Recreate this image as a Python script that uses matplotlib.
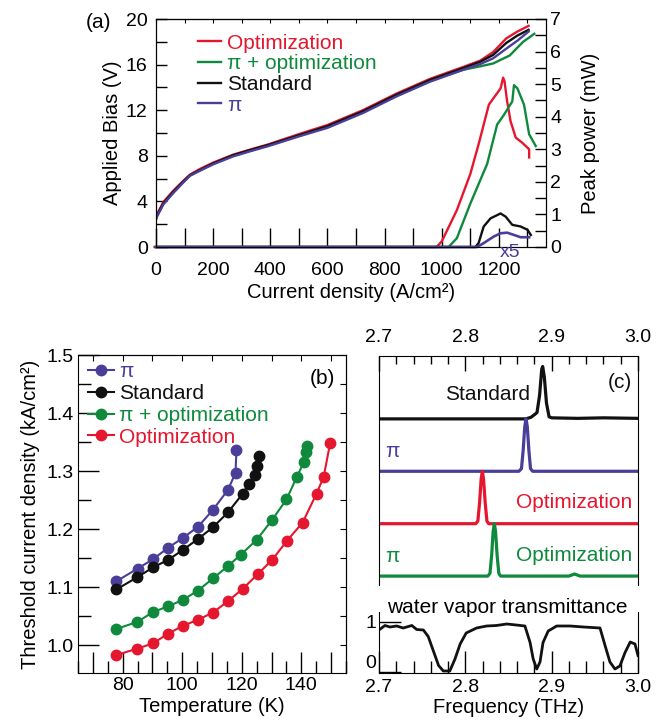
import numpy as np
import matplotlib
matplotlib.use("Agg")
import matplotlib.pyplot as plt
from matplotlib.ticker import MultipleLocator, FuncFormatter

plt.rcParams['font.family'] = ['Liberation Sans', 'DejaVu Sans']
plt.rcParams['font.size'] = 14

RED = '#e5172f'
GREEN = '#0f8a3c'
BLUE = '#4a3f98'
BLACK = '#111111'

# ---- (a) V-J and L-J curves ----
j_v = [-8, 2, 26, 61, 95, 119, 154, 200, 270, 330, 393, 500, 600, 724, 841, 959, 1076, 1135, 1180, 1226, 1265, 1304]
v_std = [1.8, 2.7, 3.85, 4.85, 5.72, 6.3, 6.75, 7.33, 8.05, 8.5, 8.95, 9.8, 10.6, 11.9, 13.35, 14.65, 15.7, 16.25, 16.85, 17.9, 18.55, 19.05]
v_opt = [1.75, 2.8, 3.95, 4.95, 5.8, 6.35, 6.85, 7.4, 8.1, 8.55, 9.0, 9.9, 10.7, 12.0, 13.45, 14.75, 15.8, 16.35, 17.1, 18.3, 18.9, 19.4]
v_pi = [1.8, 2.6, 3.75, 4.75, 5.65, 6.25, 6.7, 7.25, 7.95, 8.4, 8.85, 9.7, 10.45, 11.75, 13.2, 14.5, 15.55, 16.05, 16.55, 17.4, 18.1, 18.9]
j_v_piopt = [-5, 2, 26, 61, 95, 119, 154, 200, 270, 330, 393, 500, 600, 724, 841, 959, 1076, 1135, 1180, 1238, 1285, 1324]
v_piopt = [1.8, 2.65, 3.8, 4.8, 5.68, 6.28, 6.72, 7.3, 8.0, 8.45, 8.9, 9.75, 10.55, 11.85, 13.3, 14.6, 15.55, 15.85, 16.1, 16.8, 18.0, 18.7]

j_l_opt = [-5, 982, 1000, 1053, 1100, 1129, 1165, 1206, 1215, 1220, 1229, 1241, 1259, 1282, 1306, 1306]
l_opt = [0, 0, 0.17, 1.13, 2.24, 3.15, 4.37, 4.87, 5.2, 5.08, 4.47, 3.86, 3.36, 3.2, 3.0, 2.75]
j_l_piopt = [0, 1024, 1053, 1100, 1159, 1194, 1218, 1247, 1253, 1265, 1288, 1306, 1329]
l_piopt = [0, 0, 0.27, 1.33, 2.55, 3.76, 4.06, 4.47, 4.97, 4.87, 4.37, 3.46, 3.1]
j_l_std = [0, 1118, 1129, 1147, 1171, 1206, 1224, 1247, 1276, 1300, 1312]
l_std = [0, 0, 0.12, 0.63, 0.88, 1.03, 0.93, 0.68, 0.63, 0.53, 0.37]
j_l_pi = [0, 1124, 1147, 1182, 1206, 1229, 1253, 1276, 1306]
l_pi = [0, 0, 0.12, 0.32, 0.42, 0.44, 0.37, 0.30, 0.30]

# ---- (b) threshold current density vs temperature ----
t_pi = [77.9, 85.0, 90.2, 95.3, 100.3, 105.3, 110.3, 115.4, 117.9, 118.2]
jth_pi = [1.110, 1.132, 1.148, 1.168, 1.185, 1.204, 1.233, 1.268, 1.297, 1.336]
t_std = [77.9, 84.9, 90.2, 95.3, 100.2, 105.3, 110.3, 115.4, 120.3, 122.4, 124.5, 125.2, 125.8]
jth_std = [1.096, 1.117, 1.134, 1.147, 1.164, 1.183, 1.203, 1.229, 1.261, 1.278, 1.293, 1.309, 1.326]
t_piopt = [77.9, 84.9, 90.2, 95.3, 100.2, 105.3, 110.3, 115.3, 119.7, 125.1, 130.2, 135.0, 138.5, 140.8, 141.7, 142.0]
jth_piopt = [1.028, 1.040, 1.057, 1.067, 1.078, 1.094, 1.115, 1.136, 1.156, 1.182, 1.216, 1.251, 1.290, 1.315, 1.333, 1.343]
t_opt = [77.9, 84.9, 90.2, 95.3, 100.2, 105.3, 110.3, 115.4, 120.3, 125.3, 130.2, 135.2, 140.4, 145.1, 147.5, 149.7]
jth_opt = [0.983, 0.994, 1.003, 1.020, 1.033, 1.044, 1.056, 1.076, 1.097, 1.122, 1.147, 1.180, 1.211, 1.261, 1.290, 1.349]

# ---- (c) lasing spectra (normalised) ----
f_std = [2.700, 2.870, 2.876, 2.880, 2.883, 2.886, 2.8885, 2.8896, 2.8915, 2.894, 2.897, 2.900, 2.930, 2.960, 3.000]
s_std = [0, 0, 0.03, 0.08, 0.12, 0.45, 0.95, 1.0, 0.8, 0.3, 0.04, 0.02, 0.01, 0.02, 0.01]
f_pi = [2.700, 2.862, 2.865, 2.867, 2.8688, 2.8703, 2.8718, 2.8736, 2.8755, 2.878, 3.000]
s_pi = [0, 0, 0.05, 0.4, 0.85, 1.0, 0.85, 0.4, 0.05, 0, 0]
f_opt = [2.700, 2.812, 2.8145, 2.8165, 2.8183, 2.8197, 2.8211, 2.823, 2.825, 2.827, 3.000]
s_opt = [0, 0, 0.05, 0.4, 0.85, 1.0, 0.85, 0.4, 0.05, 0, 0]
f_piopt = [2.700, 2.826, 2.8285, 2.8305, 2.8322, 2.8336, 2.835, 2.8368, 2.8388, 2.841, 2.920, 2.9265, 2.933, 3.000]
s_piopt = [0, 0, 0.05, 0.4, 0.85, 1.0, 0.85, 0.4, 0.05, 0, 0, 0.04, 0, 0]

# water vapour transmittance
f_w = [2.700, 2.7069, 2.7127, 2.7205, 2.728, 2.738, 2.7437, 2.7514, 2.757, 2.763, 2.769, 2.7745, 2.782, 2.788,
       2.794, 2.801, 2.813, 2.8247, 2.836, 2.848, 2.859, 2.869, 2.875, 2.8786, 2.8827, 2.8865, 2.890, 2.896,
       2.9058, 2.9213, 2.937, 2.956, 2.962, 2.9675, 2.9733, 2.979, 2.985, 2.991, 2.9965, 3.000]
tr_w = [0.84, 0.93, 0.90, 0.92, 0.88, 0.93, 0.85, 0.84, 0.71, 0.42, 0.13, 0.02, 0.02, 0.26,
        0.56, 0.78, 0.88, 0.92, 0.93, 0.96, 0.94, 0.92, 0.59, 0.26, 0.06, 0.20, 0.59, 0.82,
        0.92, 0.92, 0.90, 0.88, 0.52, 0.20, 0.06, 0.12, 0.39, 0.60, 0.56, 0.33]

W, H = 670, 728
fig = plt.figure(figsize=(W / 100, H / 100), dpi=100)


def box(l, t, r, b):
    return [l / W, 1 - b / H, (r - l) / W, (b - t) / H]


# ================= (a) =================
ax = fig.add_axes(box(156, 19, 546, 247))
ax2 = ax.twinx()
ax.plot(j_v_piopt, v_piopt, color=GREEN, lw=1.7, label='π + optimization')
ax.plot(j_v, v_opt, color=RED, lw=1.7, label='Optimization')
ax.plot(j_v, v_std, color=BLACK, lw=1.7, label='Standard')
ax.plot(j_v, v_pi, color=BLUE, lw=1.7, label='π')
ax2.plot(j_l_opt, l_opt, color=RED, lw=1.7, clip_on=False)
ax2.plot(j_l_piopt, l_piopt, color=GREEN, lw=1.7, clip_on=False)
ax2.plot(j_l_std, l_std, color=BLACK, lw=1.7, clip_on=False)
ax2.plot(j_l_pi, l_pi, color=BLUE, lw=1.9, clip_on=False)
ax2.text(1238, -0.18, 'x5', color=BLUE, ha='center', va='center', fontsize=14)

ax.set_xlim(0, 1365)
ax.set_ylim(0, 20)
ax2.set_ylim(0, 7)
ax.xaxis.set_major_locator(MultipleLocator(200))
ax.xaxis.set_minor_locator(MultipleLocator(100))
ax.yaxis.set_major_locator(MultipleLocator(4))
ax.yaxis.set_minor_locator(MultipleLocator(2))
ax2.yaxis.set_major_locator(MultipleLocator(1))
ax2.yaxis.set_minor_locator(MultipleLocator(0.5))
ax.tick_params(axis='x', which='both', direction='in', length=14, width=1, pad=11, labelsize=14)
ax.tick_params(axis='y', which='both', direction='in', length=8, width=1, pad=6, labelsize=14)
ax2.tick_params(axis='y', which='both', direction='in', length=8, width=1, pad=3, labelsize=14)
ax.set_xlabel('Current density (A/cm²)', fontsize=14.5, labelpad=3)
ax.set_ylabel('Applied Bias (V)', fontsize=14.5, labelpad=3)
ax2.set_ylabel('Peak power (mW)', fontsize=14.5, labelpad=14)
sec = ax.secondary_xaxis('top')
sec.xaxis.set_major_locator(MultipleLocator(100))
sec.tick_params(direction='in', length=3, labeltop=False)

h, lab = ax.get_legend_handles_labels()
order = [1, 0, 2, 3]
leg = ax.legend([h[i] for i in order], [lab[i] for i in order], loc='upper left',
                bbox_to_anchor=(0.07, 1.0), frameon=False, fontsize=15,
                handlelength=1.1, handletextpad=0.3, labelspacing=0.08, borderaxespad=0.3)
for t, l in zip(leg.get_texts(), leg.get_lines()):
    t.set_color(l.get_color())
fig.text(98 / W, 1 - 22 / H, '(a)', fontsize=15, ha='center', va='center')

# ================= (b) =================
bx = fig.add_axes(box(78, 355, 346, 673))
bx.plot(t_pi, jth_pi, '-o', color=BLUE, lw=1.5, ms=7.5, label='π')
bx.plot(t_std, jth_std, '-o', color=BLACK, lw=1.5, ms=7.5, label='Standard')
bx.plot(t_piopt, jth_piopt, '-o', color=GREEN, lw=1.5, ms=7.5, label='π + optimization')
bx.plot(t_opt, jth_opt, '-o', color=RED, lw=1.5, ms=7.5, label='Optimization')
bx.set_xlim(65, 155)
bx.set_ylim(0.952, 1.5)
bx.xaxis.set_major_locator(MultipleLocator(10))
bx.xaxis.set_major_formatter(FuncFormatter(lambda v, p: '%d' % v if int(round(v)) % 20 == 0 else ''))
bx.xaxis.set_minor_locator(MultipleLocator(5))
bx.yaxis.set_major_locator(MultipleLocator(0.1))
bx.yaxis.set_major_formatter(FuncFormatter(lambda v, p: '%.1f' % v))
bx.yaxis.set_minor_locator(MultipleLocator(0.05))
bx.tick_params(which='major', direction='in', length=15, width=1, pad=3, labelsize=14)
bx.tick_params(which='minor', direction='in', length=9, width=1)
bx.set_xlabel('Temperature (K)', fontsize=14.5, labelpad=2)
bx.set_ylabel('Threshold current density (kA/cm²)', fontsize=14.5, labelpad=5)
secb = bx.secondary_yaxis('right')
secb.yaxis.set_major_locator(MultipleLocator(0.05))
secb.tick_params(direction='in', length=4, labelright=False)
secbt = bx.secondary_xaxis('top')
secbt.xaxis.set_major_locator(MultipleLocator(10))
secbt.tick_params(direction='in', length=4, labeltop=False)
legb = bx.legend(loc='upper left', bbox_to_anchor=(-0.01, 1.016), frameon=False, fontsize=15,
                 handlelength=1.25, handletextpad=0.25, labelspacing=0.13, borderaxespad=0.2,
                 numpoints=1)
for t, l in zip(legb.get_texts(), legb.get_lines()):
    t.set_color(l.get_color())
bx.text(0.96, 0.955, '(b)', transform=bx.transAxes, ha='right', va='top', fontsize=15)

# ================= (c) =================
cx = fig.add_axes(box(379, 356, 638, 585))
spectra = [(f_std, s_std, BLACK, 3), (f_pi, s_pi, BLUE, 2), (f_opt, s_opt, RED, 1), (f_piopt, s_piopt, GREEN, 0)]
for f, s, c, off in spectra:
    cx.plot(f, np.array(s) + off, color=c, lw=2.3, solid_joinstyle='round')
cx.set_xlim(2.7, 3.0)
cx.set_ylim(-0.17, 4.2)
cx.spines['bottom'].set_visible(False)
cx.set_yticks([])
cx.xaxis.tick_top()
cx.xaxis.set_major_locator(MultipleLocator(0.1))
cx.xaxis.set_major_formatter(FuncFormatter(lambda v, p: '%.1f' % v))
cx.xaxis.set_minor_locator(MultipleLocator(0.02))
cx.tick_params(axis='x', which='major', direction='in', length=11, width=1, pad=7, labelsize=14)
cx.tick_params(axis='x', which='minor', direction='in', length=6, width=1)
cx.text(2.875, 3.46, 'Standard', color=BLACK, ha='right', va='center', fontsize=15)
cx.text(2.716, 2.37, 'π', color=BLUE, ha='center', va='center', fontsize=15)
cx.text(2.993, 1.40, 'Optimization', color=RED, ha='right', va='center', fontsize=15)
cx.text(2.716, 0.37, 'π', color=GREEN, ha='center', va='center', fontsize=15)
cx.text(2.993, 0.40, 'Optimization', color=GREEN, ha='right', va='center', fontsize=15)
cx.text(2.993, 3.69, '(c)', color=BLACK, ha='right', va='center', fontsize=15)

wx = fig.add_axes(box(379, 612, 638, 673))
wx.plot(f_w, tr_w, color=BLACK, lw=2.0)
wx.set_xlim(2.7, 3.0)
wx.set_ylim(-0.02, 1.2)
wx.spines['top'].set_visible(False)
wx.set_yticks([0, 1])
wx.set_yticklabels(['0', '1'])
wx.get_yticklabels()[0].set_va('bottom')
wx.xaxis.set_major_locator(MultipleLocator(0.1))
wx.xaxis.set_major_formatter(FuncFormatter(lambda v, p: '%.1f' % v))
wx.xaxis.set_minor_locator(MultipleLocator(0.02))
wx.tick_params(axis='x', which='major', direction='in', length=16, width=1, pad=4, labelsize=14)
wx.tick_params(axis='x', which='minor', direction='in', length=9, width=1)
wx.tick_params(axis='y', direction='in', length=16, width=1, pad=2, labelsize=14)
wx.set_xlabel('Frequency (THz)', fontsize=14.5, labelpad=2)
wx.text(2.709, 1.29, 'water vapor transmittance', ha='left', va='center', fontsize=15, clip_on=False)

fig.savefig('out.png', dpi=100)
